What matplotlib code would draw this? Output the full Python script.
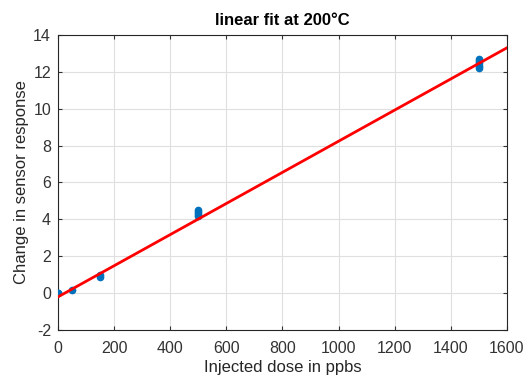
import matplotlib
matplotlib.use("Agg")
import matplotlib.pyplot as plt
import numpy as np

dose = [0, 0, 50, 150, 150, 500, 500, 500, 500, 1500, 1500, 1500, 1500, 1500]
response = [0.0, 0.03, 0.2, 0.9, 1.0, 4.2, 4.3, 4.4, 4.5, 12.2, 12.3, 12.5, 12.6, 12.7]
fit_x = [0, 1600]
fit_y = [-0.2, 13.3]

plt.rcParams['font.family'] = ['Liberation Sans', 'DejaVu Sans']
plt.rcParams['axes.unicode_minus'] = False
fig = plt.figure(figsize=(5.27, 3.79), dpi=100)
ax = fig.add_axes([0.110, 0.129, 0.852, 0.779])
ax.plot(dose, response, 'o', color='#0072BD', markersize=4.5, zorder=3)
ax.plot(fit_x, fit_y, '-', color='#FF0000', linewidth=2, zorder=4)
ax.set_xlim(0, 1600)
ax.set_ylim(-2, 14)
ax.set_xticks(np.arange(0, 1601, 200))
ax.set_yticks(np.arange(-2, 15, 2))
ax.grid(True, color='#DFDFDF', linewidth=0.8)
ax.set_axisbelow(True)
for s in ax.spines.values():
    s.set_color('#262626')
    s.set_linewidth(0.8)
ax.tick_params(direction='in', length=3, colors='#333333', labelsize=11.5, top=True, right=True, labeltop=False, labelright=False)
ax.tick_params(axis='x', pad=8)
ax.tick_params(axis='y', pad=5)
ax.set_xlabel('Injected dose in ppbs', fontsize=12, color='#262626', labelpad=3)
ax.set_ylabel('Change in sensor response', fontsize=12, color='#262626', labelpad=3)
ax.set_title('linear fit at 200°C', fontsize=12, fontweight='bold', color='black', pad=7)
fig.savefig('out.png', dpi=100)
